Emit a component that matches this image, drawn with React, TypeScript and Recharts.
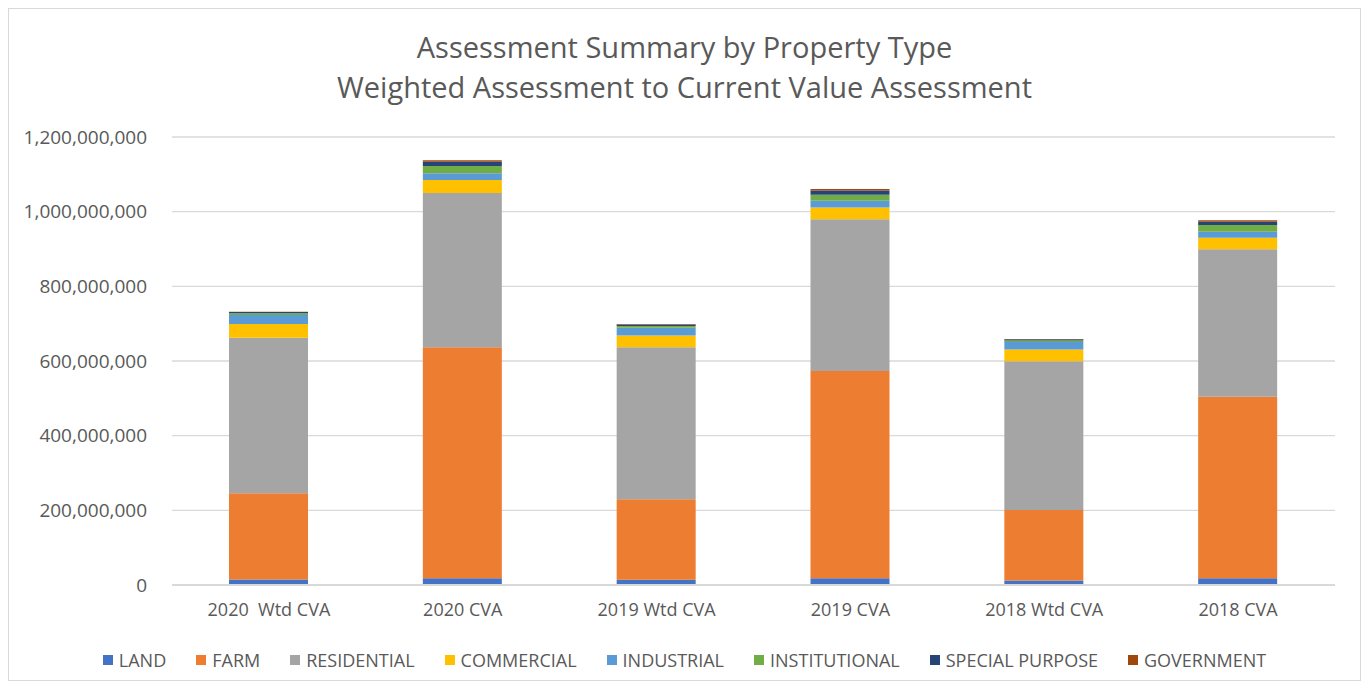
import { BarChart, Bar, XAxis, YAxis, CartesianGrid } from 'recharts'

const categories = ['2020\u00a0 Wtd CVA', '2020 CVA', '2019 Wtd CVA', '2019 CVA', '2018 Wtd CVA', '2018 CVA']

const land = [15000000, 18000000, 14000000, 18000000, 12000000, 18000000]
const farm = [231000000, 619000000, 216000000, 555000000, 189000000, 486000000]
const residential = [416000000, 413000000, 407000000, 407000000, 398000000, 395000000]
const commercial = [37000000, 35000000, 31000000, 31000000, 32000000, 31000000]
const industrial = [24000000, 18000000, 21000000, 18000000, 20000000, 16000000]
const institutional = [5000000, 19000000, 5000000, 16000000, 4000000, 18000000]
const specialPurpose = [3000000, 12000000, 4000000, 12000000, 3000000, 9000000]
const government = [1000000, 4000000, 1000000, 4000000, 1000000, 4000000]

const yTicks = [0, 200000000, 400000000, 600000000, 800000000, 1000000000, 1200000000]

const SERIES = [
  { key: 'land', label: 'LAND', color: '#4472C4', values: land },
  { key: 'farm', label: 'FARM', color: '#ED7D31', values: farm },
  { key: 'residential', label: 'RESIDENTIAL', color: '#A5A5A5', values: residential },
  { key: 'commercial', label: 'COMMERCIAL', color: '#FFC000', values: commercial },
  { key: 'industrial', label: 'INDUSTRIAL', color: '#5B9BD5', values: industrial },
  { key: 'institutional', label: 'INSTITUTIONAL', color: '#70AD47', values: institutional },
  { key: 'special', label: 'SPECIAL PURPOSE', color: '#264478', values: specialPurpose },
  { key: 'government', label: 'GOVERNMENT', color: '#9E480E', values: government },
]

const data = categories.map((name, i) => {
  const row: Record<string, string | number> = { name }
  SERIES.forEach((s) => {
    row[s.key] = s.values[i]
  })
  return row
})

const FONT = '"Open Sans", "Noto Sans", sans-serif'
const TEXT = '#595959'

export default function App() {
  return (
    <div
      style={{
        position: 'relative',
        width: 1351,
        height: 671,
        border: '1px solid #d9d9d9',
        background: '#fff',
        fontFamily: FONT,
        color: TEXT,
      }}
    >
      {/* title */}
      <div
        style={{
          position: 'absolute',
          top: 18,
          left: 0,
          width: '100%',
          textAlign: 'center',
          fontSize: 29,
          lineHeight: '40px',
        }}
      >
        <div>Assessment Summary by Property Type</div>
        <div>Weighted Assessment to Current Value Assessment</div>
      </div>

      <div style={{ position: 'absolute', top: 0, left: 0 }}>
        <BarChart
          width={1351}
          height={671}
          data={data}
          margin={{ top: 128, right: 25, left: 0, bottom: 55 }}
          barSize={79}
        >
          <CartesianGrid vertical={false} stroke="#d9d9d9" strokeWidth={1.3} />
          <XAxis
            dataKey="name"
            axisLine={{ stroke: '#d9d9d9', strokeWidth: 2 }}
            tickLine={false}
            tickSize={0}
            tickMargin={18}
            height={40}
            tick={{ fontSize: 18, fill: TEXT, fontFamily: FONT }}
          />
          <YAxis
            width={163}
            domain={[0, 1200000000]}
            ticks={yTicks}
            axisLine={false}
            tickLine={false}
            tickSize={0}
            tickMargin={25}
            tick={{ fontSize: 19, fill: TEXT, fontFamily: FONT }}
            tickFormatter={(v) => Number(v).toLocaleString('en-US')}
          />
          {SERIES.map((s) => (
            <Bar key={s.key} dataKey={s.key} stackId="a" fill={s.color} isAnimationActive={false} />
          ))}
        </BarChart>
      </div>

      {/* legend */}
      <div
        style={{
          position: 'absolute',
          top: 640,
          left: 0,
          width: '100%',
          display: 'flex',
          justifyContent: 'center',
          gap: 30,
          fontSize: 18,
          lineHeight: '22px',
        }}
      >
        {SERIES.map((s) => (
          <div key={s.key} style={{ display: 'flex', alignItems: 'center' }}>
            <span style={{ width: 10, height: 10, background: s.color, marginRight: 6 }} />
            <span>{s.label}</span>
          </div>
        ))}
      </div>
    </div>
  )
}
